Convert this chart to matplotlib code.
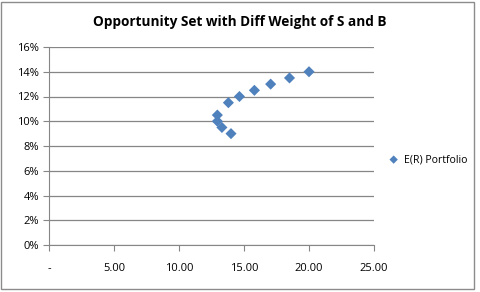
import matplotlib
matplotlib.use("Agg")
import matplotlib.pyplot as plt
from matplotlib.patches import Rectangle

std_dev = [20.0, 18.5, 17.05, 15.8, 14.65, 13.8, 12.95, 12.95, 13.3, 14.0]
exp_ret = [14.0, 13.5, 13.0, 12.5, 12.0, 11.5, 10.5, 10.0, 9.5, 9.0]
x_ticks = [0, 5, 10, 15, 20, 25]
x_labels = ["-", "5.00", "10.00", "15.00", "20.00", "25.00"]
y_ticks = [0, 2, 4, 6, 8, 10, 12, 14, 16]
y_labels = ["0%", "2%", "4%", "6%", "8%", "10%", "12%", "14%", "16%"]

plt.rcParams['font.family'] = ['Open Sans', 'DejaVu Sans']
fig = plt.figure(figsize=(4.81, 2.92), dpi=100)
fig.patches.append(Rectangle((1/481, 3/292), 473/481, 287/292, transform=fig.transFigure,
                             fill=False, edgecolor='#8c8c8c', linewidth=1.0))
ax = fig.add_axes([49/481, 1-245/292, 325/481, 198/292])
ax.scatter(std_dev, exp_ret, marker='D', s=32, color='#4F81BD', edgecolors='none',
           label='E(R) Portfolio', zorder=3)
ax.set_xlim(0, 25)
ax.set_ylim(0, 16)
ax.set_xticks(x_ticks)
ax.set_xticklabels(x_labels)
ax.set_yticks(y_ticks)
ax.set_yticklabels(y_labels)
ax.grid(axis='y', color='#868686', linewidth=0.9)
ax.set_axisbelow(True)
for s in ['top', 'right']:
    ax.spines[s].set_visible(False)
for s in ['left', 'bottom']:
    ax.spines[s].set_color('#868686')
ax.tick_params(axis='both', colors='#868686', labelcolor='black', labelsize=8, length=4, direction='out')
ax.tick_params(axis='x', pad=9)
ax.tick_params(axis='y', pad=3)
fig.text(0.498, 1-22/292, 'Opportunity Set with Diff Weight of S and B', ha='center', va='center',
         fontsize=9.8, fontweight='bold')
ax.legend(loc='center left', bbox_to_anchor=(1.015, 0.43), frameon=False, fontsize=7.6,
          handletextpad=0.0, markerscale=0.75, borderaxespad=0)
fig.savefig('out.png', dpi=100)
